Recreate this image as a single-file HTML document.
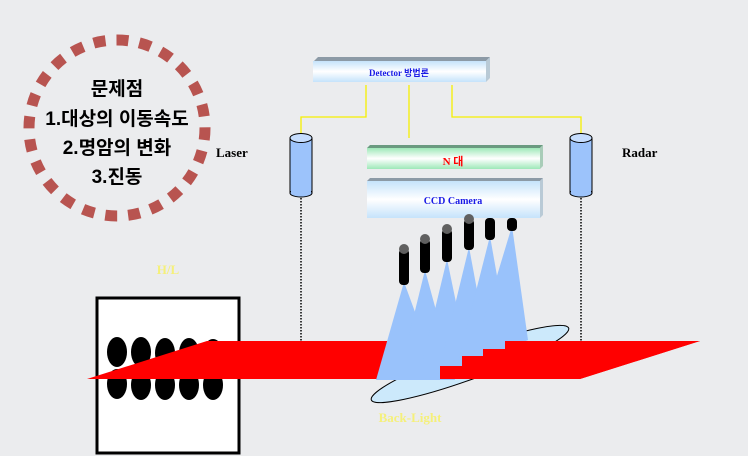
<!DOCTYPE html>
<html><head><meta charset="utf-8"><style>
html,body{margin:0;padding:0;background:#ebecee;}
svg{display:block;font-family:"Liberation Serif","Noto Serif CJK SC",serif;}
.k{font-family:"Liberation Sans","Noto Sans CJK KR",sans-serif;font-weight:bold;}
</style></head><body>
<svg width="748" height="456" viewBox="0 0 748 456">
<defs>
<linearGradient id="gb" x1="0" y1="0" x2="0" y2="1"><stop offset="0" stop-color="#c5e3fb"/><stop offset="0.5" stop-color="#ffffff"/><stop offset="1" stop-color="#c5e3fb"/></linearGradient>
<linearGradient id="gg" x1="0" y1="0" x2="0" y2="1"><stop offset="0" stop-color="#9ee8b8"/><stop offset="0.5" stop-color="#ffffff"/><stop offset="1" stop-color="#9ee8b8"/></linearGradient>
</defs>
<rect width="748" height="456" fill="#ebecee"/>
<g>
<circle cx="117" cy="128" r="88" fill="none" stroke="#b85450" stroke-width="11" stroke-dasharray="12 11"/>
<text class="k" x="117" y="95" font-size="19" text-anchor="middle">문제점</text>
<text class="k" x="117" y="125" font-size="19" text-anchor="middle">1.대상의 이동속도</text>
<text class="k" x="117" y="154" font-size="19" text-anchor="middle">2.명암의 변화</text>
<text class="k" x="117" y="183" font-size="19" text-anchor="middle">3.진동</text>
</g>
<g>
<polygon points="314,61 486,61 490,57 318,57" fill="#8c9aa6"/>
<polygon points="486,61 490,57 490,78 486,82" fill="#b9cad6"/>
<rect x="313" y="61" width="173" height="21" fill="url(#gb)"/>
<text x="399" y="76" font-size="9" font-weight="bold" fill="#1a1ae6" text-anchor="middle">Detector <tspan class="k">방법론</tspan></text>
</g>
<g stroke="#f5f000" stroke-width="1.3" fill="none">
<polyline points="366,85 366,117 301,117 301,134"/>
<line x1="409" y1="85" x2="409" y2="138"/>
<polyline points="452,85 452,117 581,117 581,136"/>
</g>
<g>
<polygon points="367,148 540,148 543,145 370,145" fill="#6a9a80"/>
<polygon points="540,148 543,145 543,166 540,169" fill="#a8ccb8"/>
<rect x="367" y="148" width="173" height="21" fill="url(#gg)"/>
<text x="453" y="165" font-size="11" font-weight="bold" fill="#ff0000" text-anchor="middle">N <tspan class="k">대</tspan></text>
</g>
<g>
<polygon points="367,181 540,181 543,178 370,178" fill="#8c9aa6"/>
<polygon points="540,181 543,178 543,215 540,218" fill="#b9cad6"/>
<rect x="367" y="181" width="173" height="37" fill="url(#gb)"/>
<text x="453" y="204" font-size="10" font-weight="bold" fill="#1a1ae6" text-anchor="middle">CCD Camera</text>
</g>
<g>
<rect x="290" y="138" width="22" height="55" fill="#9cc3fb" stroke="#000" stroke-width="1"/>
<ellipse cx="301" cy="193" rx="11" ry="4" fill="#9cc3fb" stroke="#000"/>
<rect x="291" y="140" width="20" height="52" fill="#9cc3fb"/>
<ellipse cx="301" cy="138" rx="11" ry="4.5" fill="#c5dcfd" stroke="#000"/>
<line x1="301" y1="198" x2="301" y2="350" stroke="#000" stroke-width="1.5" stroke-dasharray="1.5 1.5"/>
<text x="216" y="157" font-size="13" font-weight="bold">Laser</text>
</g>
<g>
<rect x="570" y="138" width="22" height="55" fill="#9cc3fb" stroke="#000"/>
<ellipse cx="581" cy="193" rx="11" ry="4" fill="#9cc3fb" stroke="#000"/>
<rect x="571" y="140" width="20" height="52" fill="#9cc3fb"/>
<ellipse cx="581" cy="138" rx="11" ry="4.5" fill="#c5dcfd" stroke="#000"/>
<line x1="581" y1="198" x2="581" y2="350" stroke="#000" stroke-width="1.5" stroke-dasharray="1.5 1.5"/>
<text x="622" y="157" font-size="13" font-weight="bold">Radar</text>
</g>
<text x="168" y="274" font-size="13" font-weight="bold" fill="#f5f07a" text-anchor="middle">H/L</text>
<g>
<rect x="97" y="298" width="142" height="155" fill="#fff" stroke="#000" stroke-width="3"/>
<g fill="#000">
<ellipse cx="117" cy="352" rx="10" ry="15"/><ellipse cx="141" cy="352" rx="10" ry="15"/><ellipse cx="165" cy="353" rx="10" ry="15"/><ellipse cx="189" cy="353" rx="10" ry="15"/><ellipse cx="213" cy="354" rx="10" ry="15"/>
<ellipse cx="117" cy="384" rx="10" ry="15"/><ellipse cx="141" cy="385" rx="10" ry="15"/><ellipse cx="165" cy="385" rx="10" ry="15"/><ellipse cx="189" cy="385" rx="10" ry="15"/><ellipse cx="213" cy="385" rx="10" ry="15"/>
</g>
</g>
<ellipse cx="470" cy="364" rx="105" ry="15" transform="rotate(-20 470 364)" fill="#cce9fb" stroke="#000"/>
<polygon points="207,341 700,341 580,379 87,379" fill="#ff0000"/>
<g fill="#99c2fb">
<polygon points="404,282 376,380 440,380"/>
<polygon points="425,270 398,380 455,380"/>
<polygon points="447,259 418,380 470,370"/>
<polygon points="469,247 438,375 490,360"/>
<polygon points="490,236 456,370 510,350"/>
<polygon points="512,226 470,365 528,340"/>
</g>
<polygon points="440,379 440,366 462,366 462,356 483,356 483,349 505,349 505,341 700,341 580,379" fill="#ff0000"/>
<g fill="#000">
<rect x="399" y="249" width="10" height="36" rx="4"/><circle cx="404" cy="249" r="5" fill="#606060"/>
<rect x="420" y="239" width="10" height="34" rx="4"/><circle cx="425" cy="239" r="5" fill="#606060"/>
<rect x="442" y="229" width="10" height="33" rx="4"/><circle cx="447" cy="229" r="5" fill="#606060"/>
<rect x="464" y="219" width="10" height="31" rx="4"/><circle cx="469" cy="219" r="5" fill="#606060"/>
<rect x="485" y="218" width="10" height="22" rx="4"/>
<rect x="507" y="218" width="10" height="13" rx="4"/>
</g>
<text x="410" y="422" font-size="13" font-weight="bold" fill="#f5f07a" text-anchor="middle">Back-Light</text>
</svg>
</body></html>
